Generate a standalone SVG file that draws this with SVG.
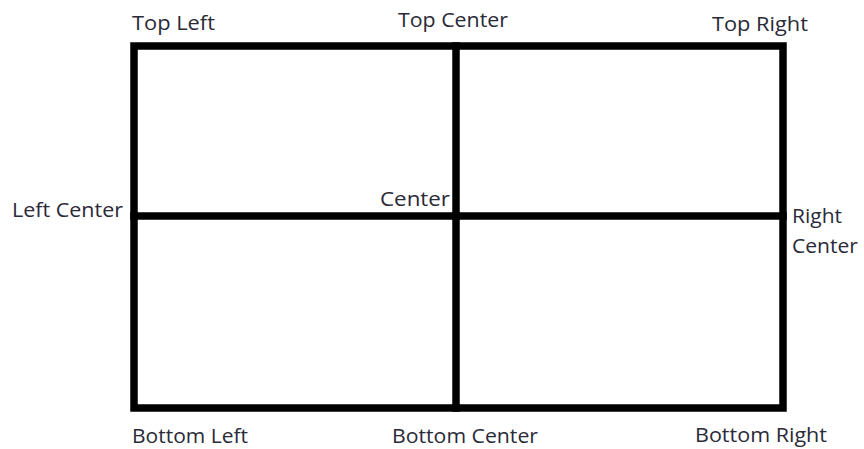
<svg xmlns="http://www.w3.org/2000/svg" width="864" height="449" viewBox="0 0 864 449">
<style>
.ln{stroke:#000;stroke-width:7.5;fill:none;stroke-linecap:square}
.t{font-family:"Open Sans","Noto Sans",sans-serif;font-size:20px;fill:#2a2a38}
</style>
<rect width="864" height="449" fill="#fff"/>
<g id="connectors">
<rect class="ln" x="134" y="46" width="649" height="362"/>
<line class="ln" x1="456" y1="46" x2="456" y2="408"/>
<line class="ln" x1="134" y1="216" x2="783" y2="216"/>
</g>
<g id="labels">
<g id="top-left"><text class="t" x="132" y="30" textLength="83" lengthAdjust="spacingAndGlyphs">Top Left</text></g>
<g id="top-center"><text class="t" x="398" y="27" textLength="110" lengthAdjust="spacingAndGlyphs">Top Center</text></g>
<g id="top-right"><text class="t" x="712" y="31" textLength="96" lengthAdjust="spacingAndGlyphs">Top Right</text></g>
<g id="left-center"><text class="t" x="12" y="217" textLength="111" lengthAdjust="spacingAndGlyphs">Left Center</text></g>
<g id="center"><text class="t" x="380" y="206" textLength="70" lengthAdjust="spacingAndGlyphs">Center</text></g>
<g id="right-center"><text class="t" x="792" y="223" textLength="50" lengthAdjust="spacingAndGlyphs">Right</text><text class="t" x="792" y="253" textLength="66" lengthAdjust="spacingAndGlyphs">Center</text></g>
<g id="bottom-left"><text class="t" x="132" y="443" textLength="116" lengthAdjust="spacingAndGlyphs">Bottom Left</text></g>
<g id="bottom-center"><text class="t" x="392" y="443" textLength="146" lengthAdjust="spacingAndGlyphs">Bottom Center</text></g>
<g id="bottom-right"><text class="t" x="695" y="442" textLength="132" lengthAdjust="spacingAndGlyphs">Bottom Right</text></g>
</g>
</svg>
